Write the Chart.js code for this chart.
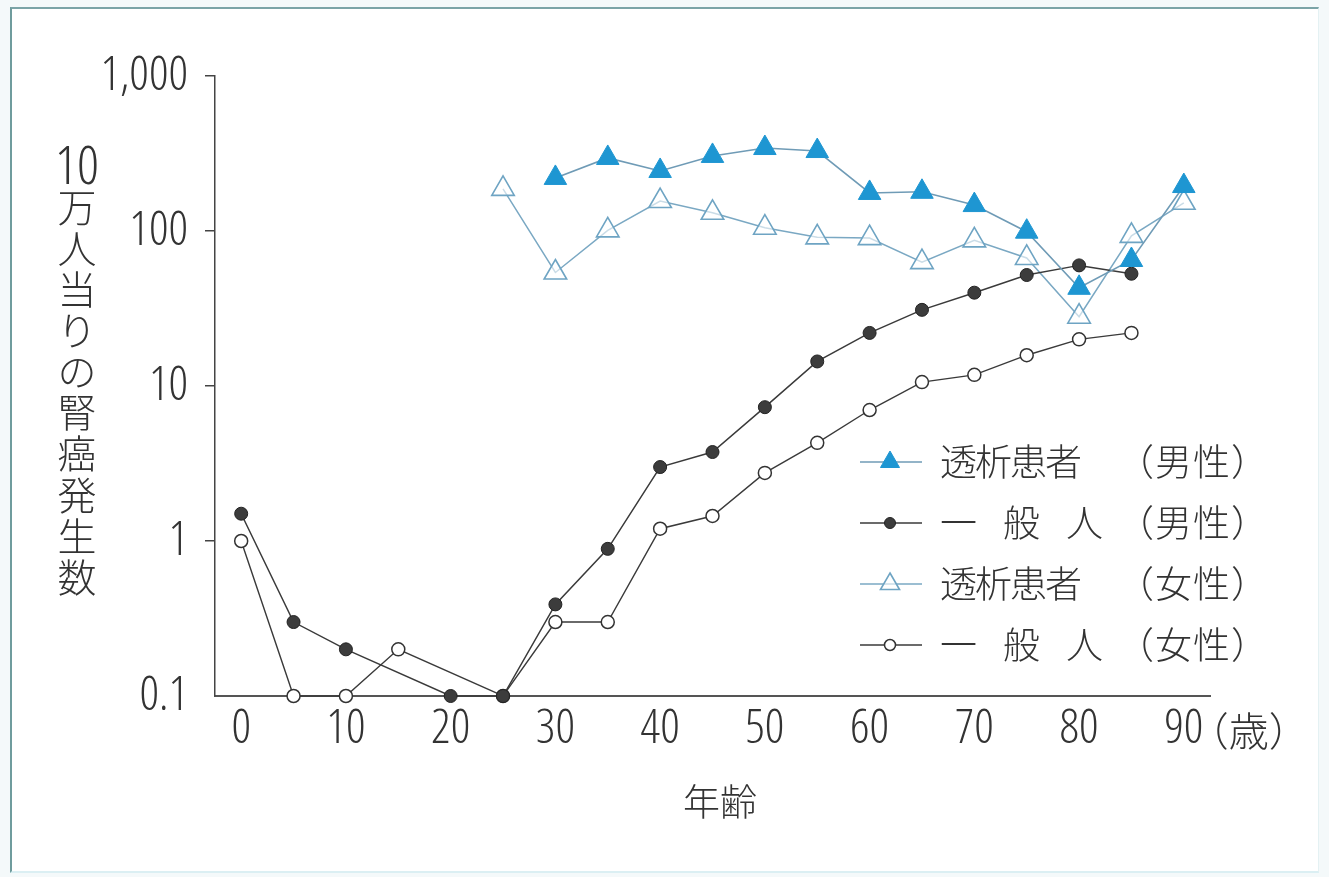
<!DOCTYPE html>
<html lang="ja">
<head>
<meta charset="utf-8">
<title>腎癌発生数</title>
<script src="https://cdn.jsdelivr.net/npm/chart.js@4.4.1/dist/chart.umd.min.js"></script>
<style>
  html, body { margin: 0; padding: 0; background: #f4f9fa; }
  #stage { position: absolute; left: 0; top: 0; width: 1329px; height: 877px; overflow: hidden; background: #f4f9fa; }
  #panel { position: absolute; left: 10px; top: 7px; width: 1306px; height: 862px; background: #ffffff;
           border-left: 2px solid #6f9c9d; border-top: 2px solid #7ba4a7;
           border-right: 1px solid #e4f1f3; border-bottom: 2px solid #dbeff3; }
  canvas { position: absolute; left: 0; top: 0; }
</style>
</head>
<body>
<div id="stage">
  <div id="panel"></div>
  <canvas id="chart" width="1329" height="877"></canvas>
</div>
<script>
// 年齢（5歳刻み）
const ages = [0, 5, 10, 15, 20, 25, 30, 35, 40, 45, 50, 55, 60, 65, 70, 75, 80, 85, 90];

// 10万人当りの腎癌発生数（null は該当なし）
const dialysisMale   = [null, null, null, null, null, null, 220, 296, 244, 305, 343, 328, 176, 179, 147, 99, 43, 65, 195];
const generalMale    = [1.5, 0.3, 0.2, null, 0.1, 0.1, 0.39, 0.89, 3.0, 3.75, 7.3, 14.4, 22, 31, 40, 52, 60, 53, null];
const dialysisFemale = [null, null, null, null, null, 187, 54, 101, 156, 131, 105, 91, 90, 63, 87, 67, 28, 93, 152];
const generalFemale  = [1.0, 0.1, 0.1, 0.2, null, 0.1, 0.3, 0.3, 1.2, 1.45, 2.75, 4.3, 7.0, 10.6, 11.8, 15.8, 20, 22, null];

const seriesLabels = ['透析患者（男性）', '一般人（男性）', '透析患者（女性）', '一般人（女性）'];

const xTicks = [0, 10, 20, 30, 40, 50, 60, 70, 80, 90];
const yTicks = [0.1, 1, 10, 100, 1000];
const yTickLabels = ['0.1', '1', '10', '100', '1,000'];

const yTitle = '10万人当りの腎癌発生数';
const xTitle = '年齢';
const xUnit = '（歳）';

// 数字は細い長体、和文は細字
const NUM_FAMILY = "'Open Sans', 'DejaVu Sans Condensed', sans-serif";
const NUM_WEIGHT = '300 condensed';
const CJK = "'Noto Sans CJK JP', 'Noto Sans', sans-serif";
const INK = '#333333';
const BLUE = '#1e96d2';

const toPoints = vals => ages.map((a, i) => ({ x: a, y: vals[i] }));

const datasets = [
  { label: seriesLabels[0], data: toPoints(dialysisMale),
    borderColor: '#6f9bb6', borderWidth: 1.6,
    pointStyle: 'triangle', pointRadius: 13,
    pointBackgroundColor: BLUE, pointBorderColor: BLUE, pointBorderWidth: 1 },
  { label: seriesLabels[1], data: toPoints(generalMale),
    borderColor: '#3a3a3a', borderWidth: 1.5,
    pointStyle: 'circle', pointRadius: 6.5,
    pointBackgroundColor: '#3c3c3c', pointBorderColor: '#222222', pointBorderWidth: 1 },
  { label: seriesLabels[2], data: toPoints(dialysisFemale),
    borderColor: '#7aa8c3', borderWidth: 1.5,
    pointStyle: 'triangle', pointRadius: 13,
    pointBackgroundColor: 'rgba(255,255,255,0.6)', pointBorderColor: '#6ea4c3', pointBorderWidth: 1.6 },
  { label: seriesLabels[3], data: toPoints(generalFemale),
    borderColor: '#3a3a3a', borderWidth: 1.4,
    pointStyle: 'circle', pointRadius: 6.5,
    pointBackgroundColor: '#ffffff', pointBorderColor: '#333333', pointBorderWidth: 1.5 }
].map(d => Object.assign(d, { spanGaps: true, clip: false, tension: 0, fill: false,
                              legendRadius: d.pointStyle === 'triangle' ? 11 : 5.5 }));

// 縦書きの軸タイトル・横軸タイトル・単位・凡例を描く
const annotations = {
  id: 'annotations',
  afterDraw(chart) {
    const ctx = chart.ctx;
    const xs = chart.scales.x;
    ctx.save();
    ctx.fillStyle = INK;
    ctx.textBaseline = 'middle';
    ctx.textAlign = 'center';

    // 縦軸タイトル（縦書き、数字は縦中横）
    const parts = yTitle.match(/\d+|./gu);
    let cy = 167;
    parts.forEach(p => {
      if (/^\d+$/.test(p)) {
        ctx.font = `${NUM_WEIGHT} 54px ${NUM_FAMILY}`;
        ctx.fillText(p, 77, cy + 2);
        cy += 40;
      } else {
        ctx.font = `300 39px ${CJK}`;
        ctx.fillText(p, 77, cy);
        cy += 41.1;
      }
    });

    // 横軸タイトル
    ctx.font = `300 37px ${CJK}`;
    ctx.fillText(xTitle, 720, 802);

    // 単位（歳）
    ctx.textAlign = 'left';
    ctx.font = `300 40px ${CJK}`;
    ctx.fillText(xUnit, xs.getPixelForValue(90) + 5, 731);

    // 凡例
    const rowY = [462, 523, 584, 645];
    chart.data.datasets.forEach((ds, i) => {
      const y = rowY[i];
      ctx.strokeStyle = ds.borderColor;
      ctx.lineWidth = ds.borderWidth;
      ctx.beginPath();
      ctx.moveTo(860, y);
      ctx.lineTo(922, y);
      ctx.stroke();
      ctx.fillStyle = ds.pointBackgroundColor;
      ctx.strokeStyle = ds.pointBorderColor;
      ctx.lineWidth = ds.pointBorderWidth;
      Chart.helpers.drawPoint(ctx, { pointStyle: ds.pointStyle, radius: ds.legendRadius,
                                     rotation: 0, borderWidth: ds.pointBorderWidth }, 890, y);

      const cut = ds.label.indexOf('（');
      const name = [...ds.label.slice(0, cut)];
      const tag = [...ds.label.slice(cut)];
      const pitch = name.length > 3 ? 35 : 63;
      ctx.fillStyle = INK;
      ctx.font = `300 37px ${CJK}`;
      ctx.textAlign = 'left';
      name.forEach((ch, k) => ctx.fillText(ch, 940 + k * pitch, y));
      tag.forEach((ch, k) => ctx.fillText(ch, 1117 + k * 38, y));
    });
    ctx.restore();
  }
};

new Chart(document.getElementById('chart'), {
  type: 'line',
  data: { datasets },
  options: {
    responsive: false,
    devicePixelRatio: 1,
    animation: false,
    events: [],
    layout: { padding: { left: 0, right: 119, top: 76, bottom: 0 } },
    plugins: { legend: { display: false }, tooltip: { enabled: false }, title: { display: false } },
    scales: {
      x: {
        type: 'linear', min: -2.5, max: 92.5,
        afterBuildTicks: s => { s.ticks = xTicks.map(v => ({ value: v })); },
        afterFit: s => { s.height = 181; },
        grid: { display: false, drawTicks: false },
        border: { display: true, color: '#555555', width: 2 },
        ticks: { padding: 5, color: INK, autoSkip: false, maxRotation: 0,
                 font: { family: NUM_FAMILY, weight: NUM_WEIGHT, size: 48 }, callback: v => String(v) }
      },
      y: {
        type: 'logarithmic', min: 0.1, max: 1000,
        afterBuildTicks: s => { s.ticks = yTicks.map(v => ({ value: v })); },
        afterFit: s => { s.width = 215; },
        grid: { drawOnChartArea: false, drawTicks: true, tickLength: 10, lineWidth: 1.5,
                color: c => (c.tick && c.tick.value === yTicks[0]) ? 'rgba(0,0,0,0)' : '#444444' },
        border: { display: true, color: '#444444', width: 1.5 },
        ticks: { padding: 17, color: INK, autoSkip: false,
                 font: { family: NUM_FAMILY, weight: NUM_WEIGHT, size: 48 },
                 callback: v => {
                   const k = yTicks.findIndex(t => Math.abs(t - v) < t * 1e-6);
                   return k >= 0 ? yTickLabels[k] : '';
                 } }
      }
    }
  },
  plugins: [annotations]
});
</script>
</body>
</html>
